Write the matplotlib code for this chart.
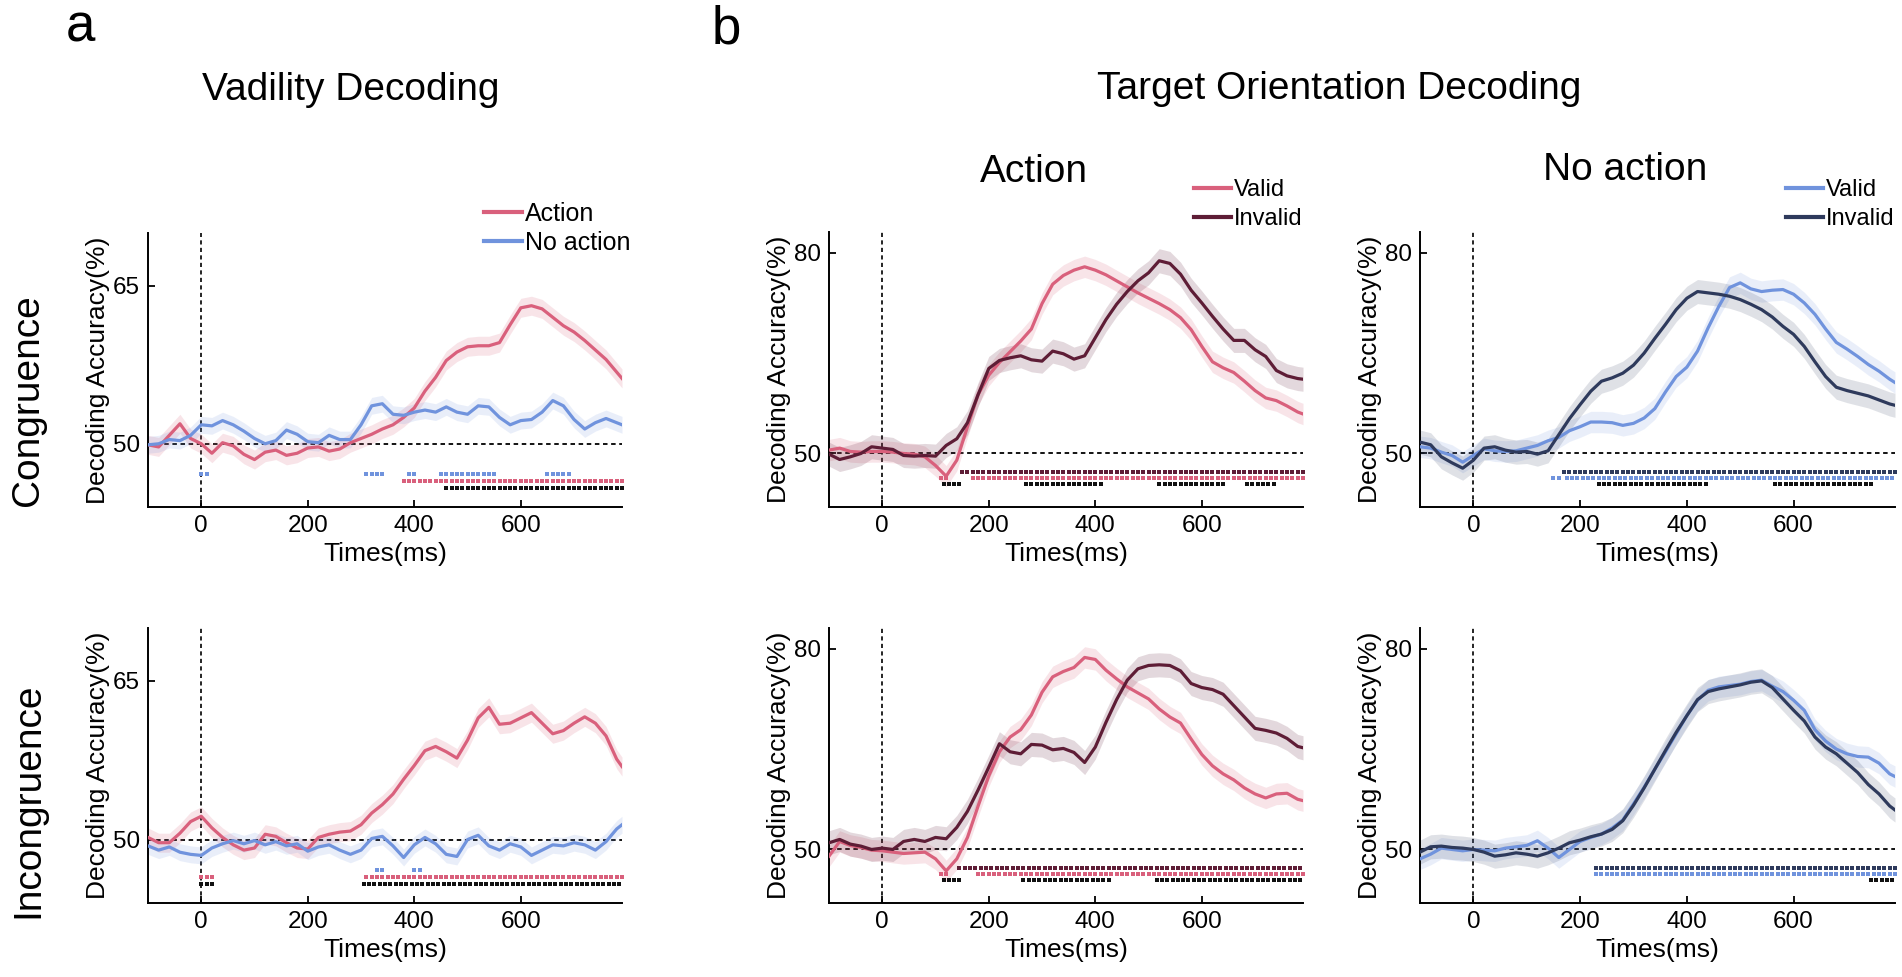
import numpy as np
import matplotlib
matplotlib.use('Agg')
import matplotlib.pyplot as plt
from matplotlib.lines import Line2D

plt.rcParams['font.family'] = ['Liberation Sans', 'DejaVu Sans']

W, H = 1902, 977

# ---------------- data ----------------
TIMES = list(range(-100, 781, 20)) + [790]
X_TICKS = [0, 200, 400, 600]

# Panel a: validity decoding
A_CON_ACTION = [49.9, 49.7, 50.8, 51.9, 50.5, 50.0, 49.1, 50.1, 49.8, 49.0,
                48.5, 49.2, 49.4, 48.9, 49.1, 49.6, 49.7, 49.3, 49.5, 50.1,
                50.5, 50.9, 51.4, 51.8, 52.5, 53.4, 55.0, 56.3, 57.9, 58.7,
                59.2, 59.3, 59.3, 59.6, 61.3, 62.9, 63.1, 62.8, 62.0, 61.2,
                60.6, 59.8, 58.9, 58.0, 56.8, 56.2]
A_CON_NOACT = [49.9, 50.0, 50.4, 50.3, 50.8, 51.8, 51.7, 52.2, 51.8, 51.2,
               50.5, 50.0, 50.3, 51.3, 50.9, 50.2, 50.1, 50.8, 50.4, 50.4,
               51.8, 53.6, 53.8, 52.8, 52.7, 53.0, 53.2, 53.0, 53.5, 53.0,
               52.8, 53.6, 53.5, 52.5, 51.8, 52.2, 52.3, 53.0, 54.1, 53.6,
               52.3, 51.4, 52.0, 52.4, 52.0, 51.8]
A_INC_ACTION = [50.2, 49.7, 49.7, 50.6, 51.7, 52.2, 51.1, 50.2, 49.5, 49.0,
                49.2, 50.5, 50.3, 49.7, 49.2, 49.1, 50.2, 50.5, 50.7, 50.8,
                51.4, 52.5, 53.3, 54.3, 55.7, 57.0, 58.4, 58.8, 58.3, 57.7,
                59.4, 61.5, 62.5, 60.9, 61.0, 61.5, 62.0, 61.0, 60.0, 60.3,
                61.0, 61.6, 61.0, 59.8, 57.6, 56.9]
A_INC_NOACT = [49.4, 49.0, 49.3, 48.8, 48.6, 48.5, 49.2, 49.6, 49.9, 49.6,
               49.9, 49.5, 49.8, 49.4, 49.6, 48.9, 49.3, 49.5, 49.0, 48.6,
               49.0, 50.1, 50.3, 49.4, 48.3, 49.5, 50.2, 49.6, 48.6, 48.4,
               50.0, 50.4, 49.4, 49.0, 49.6, 49.3, 48.5, 49.0, 49.5, 49.4,
               49.7, 49.5, 49.0, 49.8, 51.0, 51.4]

# Panel b: target orientation decoding
B_CON_ACT_VALID = [50.5, 50.8, 50.3, 50.2, 50.3, 50.3, 50.2, 50.0, 49.9, 49.5,
                   48.2, 46.6, 49.0, 54.0, 58.8, 61.7, 63.6, 65.2, 66.8, 68.6,
                   72.4, 75.3, 76.6, 77.4, 77.9, 77.4, 76.7, 75.8, 74.9, 74.0,
                   73.2, 72.4, 71.5, 70.3, 68.5, 66.0, 63.7, 62.8, 62.1, 60.8,
                   59.4, 58.3, 57.9, 57.1, 56.2, 55.9]
B_CON_ACT_INVALID = [49.9, 49.1, 49.5, 50.0, 51.0, 50.8, 50.6, 49.7, 49.6, 49.7,
                     49.6, 51.2, 52.2, 54.6, 58.8, 62.7, 63.9, 64.3, 64.6, 64.0,
                     63.8, 65.3, 64.9, 64.1, 64.6, 67.3, 70.0, 72.3, 74.2, 75.8,
                     77.0, 78.8, 78.4, 76.8, 74.4, 72.5, 70.5, 68.6, 66.9, 66.9,
                     65.5, 64.5, 62.4, 61.6, 61.2, 61.1]
B_INC_ACT_VALID = [49.0, 51.2, 50.6, 50.3, 49.9, 49.8, 49.6, 49.4, 49.5, 49.6,
                   48.6, 46.8, 48.6, 51.8, 56.5, 61.0, 64.6, 66.8, 67.9, 70.1,
                   73.5, 75.8, 76.6, 77.2, 78.7, 78.4, 76.8, 75.5, 74.3, 73.4,
                   72.5, 71.0, 69.8, 68.9, 66.5, 64.2, 62.5, 61.3, 60.4, 59.2,
                   58.3, 57.7, 58.3, 58.4, 57.5, 57.3]
B_INC_ACT_INVALID = [51.0, 51.5, 50.8, 50.5, 50.0, 50.2, 50.0, 51.2, 51.5, 51.2,
                     51.8, 51.6, 53.3, 55.7, 58.9, 62.3, 65.8, 64.6, 64.3, 65.7,
                     65.6, 64.9, 65.1, 64.5, 63.0, 65.3, 69.0, 72.4, 75.3, 77.0,
                     77.5, 77.6, 77.5, 76.7, 74.8, 74.2, 73.9, 73.2, 71.5, 69.8,
                     68.1, 67.8, 67.4, 66.6, 65.4, 65.2]
B_CON_NO_VALID = [51.0, 50.8, 50.2, 49.7, 48.7, 49.7, 50.7, 50.4, 50.3, 50.4,
                  50.8, 51.2, 51.9, 52.4, 53.4, 54.0, 54.7, 54.7, 54.6, 54.2,
                  54.5, 55.3, 56.7, 59.2, 61.5, 62.9, 65.3, 68.8, 72.0, 74.8,
                  75.5, 74.6, 74.2, 74.4, 74.5, 73.8, 72.5, 70.8, 68.6, 66.6,
                  65.6, 64.5, 63.3, 62.3, 61.1, 60.6]
B_CON_NO_INVALID = [51.7, 51.3, 49.5, 48.6, 47.8, 49.0, 50.8, 51.0, 50.5, 50.2,
                    50.3, 49.9, 50.4, 52.8, 55.2, 57.3, 59.3, 60.8, 61.3, 62.0,
                    63.2, 65.0, 67.2, 69.3, 71.5, 73.2, 74.2, 74.0, 73.8, 73.5,
                    73.0, 72.3, 71.5, 70.4, 69.0, 67.8, 66.0, 63.7, 61.5, 59.9,
                    59.4, 59.0, 58.6, 58.0, 57.4, 57.2]
B_INC_NO_VALID = [48.6, 49.3, 50.2, 50.0, 49.8, 50.0, 49.9, 49.8, 50.2, 50.4,
                  50.6, 51.3, 50.2, 48.8, 50.0, 51.2, 51.8, 52.3, 53.2, 54.4,
                  56.8, 59.3, 62.0, 64.6, 67.3, 70.0, 72.3, 73.8, 74.3, 74.5,
                  74.7, 75.1, 75.3, 74.4, 73.6, 72.3, 70.8, 67.9, 66.2, 65.0,
                  64.3, 63.9, 63.8, 62.9, 61.3, 60.9]
B_INC_NO_INVALID = [49.6, 50.4, 50.5, 50.3, 50.2, 50.0, 49.6, 49.0, 49.2, 49.5,
                    49.3, 49.0, 49.5, 50.2, 51.0, 51.4, 51.9, 52.3, 53.0, 54.3,
                    56.6, 59.2, 62.0, 64.8, 67.5, 70.0, 72.4, 73.6, 74.0, 74.3,
                    74.6, 75.0, 75.2, 74.2, 72.5, 70.8, 69.2, 66.8, 65.3, 64.3,
                    62.9, 61.5, 59.7, 58.3, 56.5, 55.9]

# significant time windows (ms)
SIG_A_CON_NOACT = [(0, 10), (310, 340), (390, 400), (450, 550), (650, 690)]
SIG_A_CON_ACTION = [(380, 790)]
SIG_A_CON_DIFF = [(460, 790)]
SIG_A_INC_NOACT = [(330, 340), (400, 410)]
SIG_A_INC_ACTION = [(0, 20), (310, 790)]
SIG_A_INC_DIFF = [(0, 20), (305, 790)]

SIG_B_CON_ACT_INVALID = [(150, 790)]
SIG_B_CON_ACT_VALID = [(110, 120), (170, 790)]
SIG_B_CON_ACT_DIFF = [(115, 150), (270, 410), (520, 640), (685, 735)]
SIG_B_INC_ACT_INVALID = [(145, 790)]
SIG_B_INC_ACT_VALID = [(110, 120), (180, 790)]
SIG_B_INC_ACT_DIFF = [(115, 150), (265, 430), (515, 790)]
SIG_B_CON_NO_INVALID = [(170, 790)]
SIG_B_CON_NO_VALID = [(150, 160), (175, 790)]
SIG_B_CON_NO_DIFF = [(235, 435), (565, 750)]
SIG_B_INC_NO_INVALID = [(230, 790)]
SIG_B_INC_NO_VALID = [(230, 790)]
SIG_B_INC_NO_DIFF = [(745, 790)]

# ---------------- style ----------------
RED = '#D9607C'
BLUE = '#7093DD'
MAROON = '#5E1D36'
NAVY = '#2E3A5C'
SIGK = '#111111'

fig = plt.figure(figsize=(W / 100, H / 100), dpi=100)


def make_ax(l, t, r, b):
    return fig.add_axes([l / W, 1 - b / H, (r - l) / W, (b - t) / H])


def style(ax, ylim, yticks):
    ax.set_xlim(-100, 790)
    ax.set_ylim(*ylim)
    ax.set_xticks(X_TICKS)
    ax.set_yticks(yticks)
    for s in ('top', 'right'):
        ax.spines[s].set_visible(False)
    for s in ('left', 'bottom'):
        ax.spines[s].set_linewidth(1.4)
    ax.tick_params(direction='in', length=5, width=1.3, labelsize=17.5, pad=6)
    ax.axhline(50, color='k', ls=(0, (2.5, 2)), lw=1.3, zorder=1)
    ax.axvline(0, color='k', ls=(0, (2.5, 2)), lw=1.2, zorder=1)
    ax.set_xlabel('Times(ms)', fontsize=19, labelpad=3)
    ax.set_ylabel('Decoding Accuracy(%)', fontsize=19, labelpad=2)


def curve(ax, y, color, sem, alpha):
    t = np.array(TIMES)
    y = np.array(y)
    ax.fill_between(t, y - sem, y + sem, color=color, alpha=alpha, lw=0, zorder=2)
    ax.plot(t, y, color=color, lw=2.3, zorder=3)


def sig(ax, intervals, y, color):
    for s, e in intervals:
        xs = np.arange(s, e + 1, 10)
        ax.plot(xs, np.full(len(xs), y), ls='none', marker='s', ms=3.4,
                mew=0, color=color, clip_on=False, zorder=4)


A_YLIM, A_YT = (44, 70), [50, 65]
B_YLIM, B_YT = (42, 83.1), [50, 80]

# panel a
ax = make_ax(148, 233, 622, 507)
style(ax, A_YLIM, A_YT)
curve(ax, A_CON_ACTION, RED, 0.9, 0.17)
curve(ax, A_CON_NOACT, BLUE, 0.8, 0.15)
sig(ax, SIG_A_CON_NOACT, 47.1, BLUE)
sig(ax, SIG_A_CON_ACTION, 46.45, RED)
sig(ax, SIG_A_CON_DIFF, 45.8, SIGK)
ax.legend([Line2D([], [], color=RED, lw=3), Line2D([], [], color=BLUE, lw=3)],
          ['Action', 'No action'], loc='upper left',
          bbox_to_anchor=(484 / W, 1 - 202 / H), bbox_transform=fig.transFigure,
          frameon=False, fontsize=18, handlelength=1.5, handletextpad=0.15,
          labelspacing=0.2, borderpad=0, borderaxespad=0)

ax = make_ax(148, 628, 622, 903)
style(ax, A_YLIM, A_YT)
curve(ax, A_INC_ACTION, RED, 0.9, 0.17)
curve(ax, A_INC_NOACT, BLUE, 0.8, 0.15)
sig(ax, SIG_A_INC_NOACT, 47.1, BLUE)
sig(ax, SIG_A_INC_ACTION, 46.45, RED)
sig(ax, SIG_A_INC_DIFF, 45.8, SIGK)

# panel b, action
for top, bot, valid, invalid, sv, si, sd in [
        (232, 507, B_CON_ACT_VALID, B_CON_ACT_INVALID,
         SIG_B_CON_ACT_VALID, SIG_B_CON_ACT_INVALID, SIG_B_CON_ACT_DIFF),
        (628, 903, B_INC_ACT_VALID, B_INC_ACT_INVALID,
         SIG_B_INC_ACT_VALID, SIG_B_INC_ACT_INVALID, SIG_B_INC_ACT_DIFF)]:
    ax = make_ax(829, top, 1303, bot)
    style(ax, B_YLIM, B_YT)
    curve(ax, valid, RED, 1.6, 0.17)
    curve(ax, invalid, MAROON, 1.8, 0.17)
    sig(ax, si, 47.2, MAROON)
    sig(ax, sv, 46.3, RED)
    sig(ax, sd, 45.4, SIGK)
    if top == 232:
        ax.legend([Line2D([], [], color=RED, lw=3), Line2D([], [], color=MAROON, lw=3)],
                  ['Valid', 'Invalid'], loc='upper left',
                  bbox_to_anchor=(1194 / W, 1 - 179 / H), bbox_transform=fig.transFigure,
                  frameon=False, fontsize=17, handlelength=1.55, handletextpad=0.15,
                  labelspacing=0.3, borderpad=0, borderaxespad=0)

# panel b, no action
for top, bot, valid, invalid, sv, si, sd in [
        (232, 507, B_CON_NO_VALID, B_CON_NO_INVALID,
         SIG_B_CON_NO_VALID, SIG_B_CON_NO_INVALID, SIG_B_CON_NO_DIFF),
        (628, 903, B_INC_NO_VALID, B_INC_NO_INVALID,
         SIG_B_INC_NO_VALID, SIG_B_INC_NO_INVALID, SIG_B_INC_NO_DIFF)]:
    ax = make_ax(1420, top, 1895, bot)
    style(ax, B_YLIM, B_YT)
    curve(ax, valid, BLUE, 1.6, 0.15)
    curve(ax, invalid, NAVY, 1.8, 0.15)
    sig(ax, si, 47.2, NAVY)
    sig(ax, sv, 46.3, BLUE)
    sig(ax, sd, 45.4, SIGK)
    if top == 232:
        ax.legend([Line2D([], [], color=BLUE, lw=3), Line2D([], [], color=NAVY, lw=3)],
                  ['Valid', 'Invalid'], loc='upper left',
                  bbox_to_anchor=(1786 / W, 1 - 179 / H), bbox_transform=fig.transFigure,
                  frameon=False, fontsize=17, handlelength=1.55, handletextpad=0.15,
                  labelspacing=0.3, borderpad=0, borderaxespad=0)

# texts
def ftext(x, y, s, size, **kw):
    fig.text(x / W, 1 - y / H, s, fontsize=size, ha='center', va='center', **kw)

ftext(80, 28, 'a', 38)
ftext(726, 30, 'b', 38)
ftext(351, 90, 'Vadility Decoding', 28)
ftext(1339, 89, 'Target Orientation Decoding', 28)
ftext(1034, 172, 'Action', 28)
ftext(1625, 170, 'No action', 28)
ftext(28, 400, 'Congruence', 28, rotation=90)
ftext(28, 800, 'Incongruence', 28, rotation=90)

fig.savefig('out.png', dpi=100, facecolor='white')
